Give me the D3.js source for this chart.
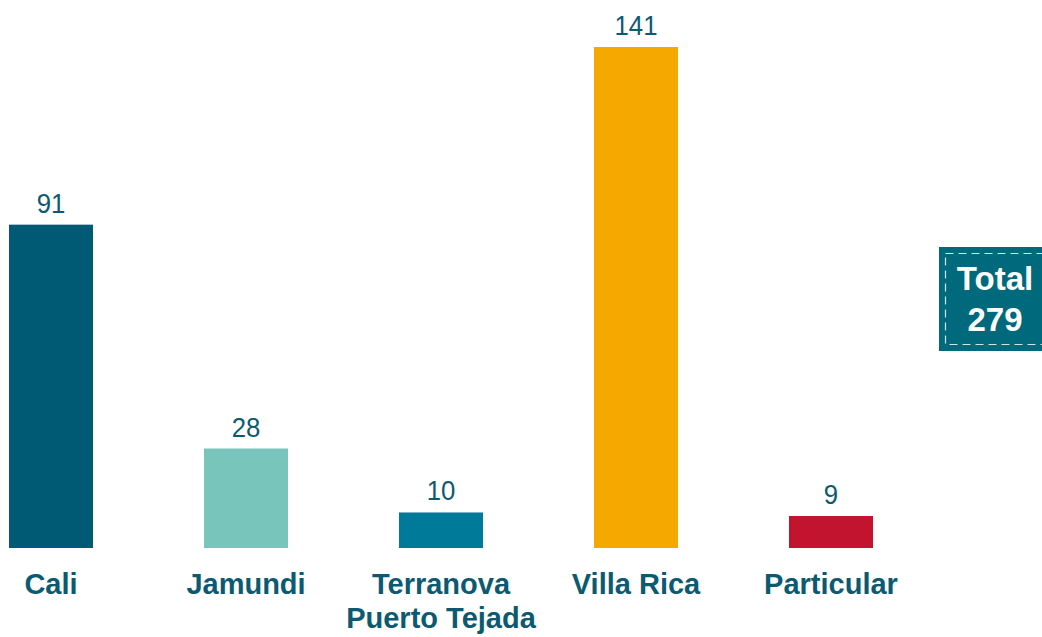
<!DOCTYPE html>
<html>
<head>
<meta charset="utf-8">
<script src="https://cdn.jsdelivr.net/npm/d3@7"></script>
<style>
  html, body { margin: 0; padding: 0; background: #fff; }
  svg { display: block; font-family: "Liberation Sans", Arial, Helvetica, sans-serif; }
</style>
</head>
<body>
<svg id="chart" width="1042" height="637"></svg>
<script>
// Participants by origin
const categories = ["Cali", "Jamundi", "Terranova\nPuerto Tejada", "Villa Rica", "Particular"];
const values = [91, 28, 10, 141, 9];
const barColors = ["#005a73", "#77c5bb", "#007a99", "#f5a800", "#c2132f"];
const totalLabel = ["Total", "279"];

const svg = d3.select("#chart");
const textColor = "#0b5a72";

const x = d3.scaleBand()
  .domain(categories)
  .range([9, 873])
  .paddingInner(111 / 195)
  .paddingOuter(0);

const y = d3.scaleLinear()
  .domain([0, 141])
  .range([548, 47]);

// Bars
svg.selectAll("rect.bar")
  .data(values)
  .join("rect")
  .attr("class", "bar")
  .attr("x", (d, i) => x(categories[i]))
  .attr("y", d => y(d))
  .attr("width", x.bandwidth())
  .attr("height", d => y(0) - y(d))
  .attr("fill", (d, i) => barColors[i]);

// Value labels (slightly condensed digits)
svg.selectAll("text.value")
  .data(values)
  .join("text")
  .attr("class", "value")
  .attr("transform", (d, i) =>
    `translate(${x(categories[i]) + x.bandwidth() / 2},${y(d) - 12}) scale(0.92,1)`)
  .attr("text-anchor", "middle")
  .attr("font-size", 28)
  .attr("fill", textColor)
  .text(d => d);

// Category axis labels (no axis line)
const xAxis = d3.axisBottom(x).tickSize(0).tickFormat("");
const axisG = svg.append("g")
  .attr("transform", `translate(0,${y(0)})`)
  .call(xAxis);
axisG.select(".domain").remove();

axisG.selectAll(".tick").each(function(d) {
  const t = d3.select(this).append("text")
    .attr("text-anchor", "middle")
    .attr("font-size", 29)
    .attr("font-weight", "bold")
    .attr("fill", textColor);
  d.split("\n").forEach((line, j) => {
    t.append("tspan")
      .attr("x", 0)
      .attr("y", 46 + j * 34)
      .text(line);
  });
});

// Total badge
const box = svg.append("g").attr("transform", "translate(939,247)");
box.append("rect")
  .attr("width", 110)
  .attr("height", 104)
  .attr("fill", "#006a7d");
box.append("rect")
  .attr("x", 6.5)
  .attr("y", 6.5)
  .attr("width", 110)
  .attr("height", 91)
  .attr("fill", "none")
  .attr("stroke", "#cfe3e8")
  .attr("stroke-width", 1.2)
  .attr("stroke-dasharray", "8,5");
box.selectAll("text")
  .data(totalLabel)
  .join("text")
  .attr("x", 56)
  .attr("y", (d, i) => 43 + i * 41)
  .attr("text-anchor", "middle")
  .attr("font-size", 33)
  .attr("font-weight", "bold")
  .attr("fill", "#ffffff")
  .text(d => d);
</script>
</body>
</html>
